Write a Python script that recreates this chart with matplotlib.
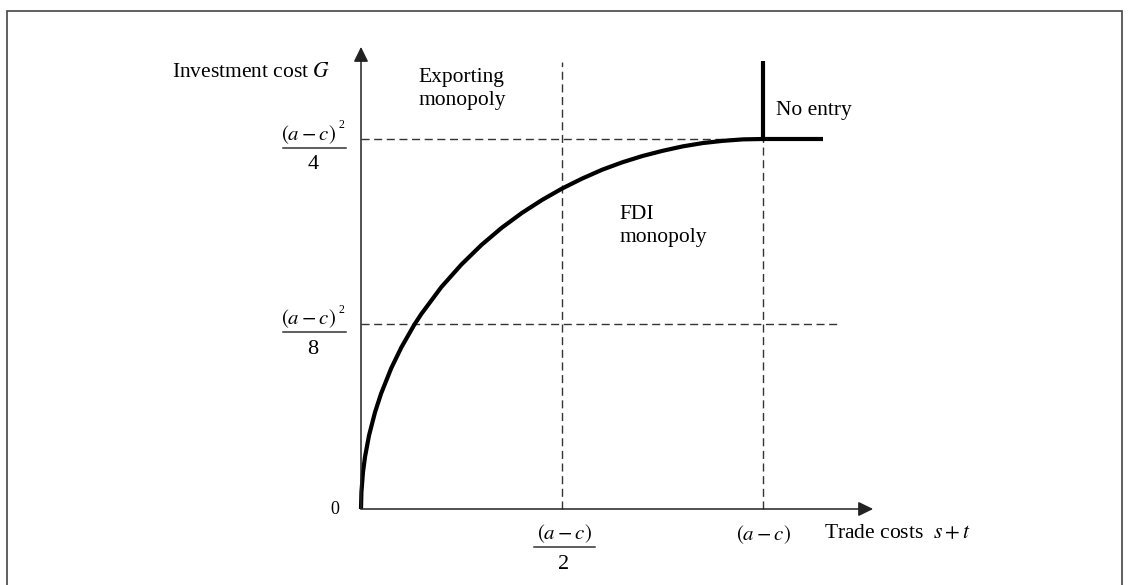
import matplotlib
matplotlib.use("Agg")
import matplotlib.pyplot as plt
from matplotlib.patches import Rectangle

plt.rcParams['font.family'] = ['Liberation Serif', 'DejaVu Serif']
plt.rcParams['mathtext.fontset'] = 'stix'

# x in units of (a-c), y in units of (a-c)^2/4
trade_cost_pts = [0, 0.001, 0.005, 0.01, 0.02, 0.035, 0.05, 0.075, 0.1, 0.132, 0.15,
                  0.2, 0.25, 0.3, 0.35, 0.4, 0.45, 0.5, 0.55, 0.6, 0.65, 0.7,
                  0.75, 0.8, 0.85, 0.9, 0.95, 1.0]
invest_cost_pts = [0, 0.045, 0.1, 0.141, 0.199, 0.262, 0.312, 0.38, 0.436, 0.497, 0.527,
                   0.6, 0.661, 0.714, 0.76, 0.8, 0.835, 0.866, 0.893, 0.917, 0.937, 0.954,
                   0.968, 0.98, 0.989, 0.995, 0.999, 1.0]

x_ticks = [0.5, 1.0]
y_ticks = [0.5, 1.0]
no_entry_right = 1.149
no_entry_top = 1.211

fig = plt.figure(figsize=(11.29, 5.85), dpi=100)
ax = fig.add_axes([0, 0, 1, 1])
ax.set_xlim(-361 / 402, (1129 - 361) / 402)
ax.set_ylim(-(585 - 509) / 370, 509 / 370)
ax.axis('off')

# frame round the figure
fig.patches.append(Rectangle((7 / 1129, -0.01), (1122 - 7) / 1129, 1 - 11 / 585 + 0.01,
                             transform=fig.transFigure, fill=False,
                             edgecolor='#444444', lw=1.2))

# axes with arrows
arrow = dict(arrowstyle='-|>,head_length=0.45,head_width=0.22', color='#222222',
             lw=1.1, mutation_scale=20, shrinkA=0, shrinkB=0)
ax.annotate('', xy=(0, 1.249), xytext=(0, 0), arrowprops=arrow)
ax.annotate('', xy=(1.274, 0), xytext=(0, 0), arrowprops=arrow)

# dashed guide lines
dash = dict(color='#333333', lw=1.0, linestyle=(0, (5.8, 3.3)))
ax.plot([0, 1.0], [y_ticks[1], y_ticks[1]], **dash)
ax.plot([0, 1.184], [y_ticks[0], y_ticks[0]], **dash)
ax.plot([x_ticks[0], x_ticks[0]], [0, 1.208], **dash)
ax.plot([x_ticks[1], x_ticks[1]], [0, 1.0], **dash)

# regime boundaries
ax.plot(trade_cost_pts, invest_cost_pts, color='black', lw=3.0, solid_capstyle='butt')
ax.plot([1.0, no_entry_right], [1.0, 1.0], color='black', lw=3.0, solid_capstyle='butt')
ax.plot([1.0, 1.0], [1.0, no_entry_top], color='black', lw=3.0, solid_capstyle='butt')

fs = 15.5
fm = 15
ax.text(-0.077, 1.181, r'Investment cost $G$', fontsize=fs, ha='right', va='center')
ax.text(0.144, 1.135, 'Exporting\nmonopoly', fontsize=fs, ha='left', va='center', linespacing=1.3)
ax.text(1.032, 1.076, 'No entry', fontsize=fs, ha='left', va='center')
ax.text(0.644, 0.765, 'FDI\nmonopoly', fontsize=fs, ha='left', va='center', linespacing=1.3)
ax.text(-0.065, 0.0, '0', fontsize=13, ha='center', va='center')
ax.text(1.0, -0.068, r'$(a-c)$', fontsize=fm, ha='center', va='center')
ax.text(1.152, -0.068, r'Trade costs  $s+t$', fontsize=fs, ha='left', va='center')


def fraction(xc, ybar, x0, x1, denom, sup=True):
    ax.plot([x0, x1], [ybar, ybar], color='#333333', lw=1.1)
    ax.text(xc - (0.012 if sup else 0), ybar + 0.037, r'$(a-c)$', fontsize=fm,
            ha='center', va='center')
    if sup:
        ax.text(x1 - 0.012, ybar + 0.061, '2', fontsize=8.5, ha='center', va='center')
    ax.text(xc, ybar - 0.046, denom, fontsize=fm + 1, ha='center', va='center')


fraction(-0.119, 0.976, -0.194, -0.037, '4')
fraction(-0.119, 0.478, -0.194, -0.037, '8')
fraction(0.505, -0.103, 0.430, 0.582, '2', sup=False)

fig.savefig('out.png', dpi=100)
